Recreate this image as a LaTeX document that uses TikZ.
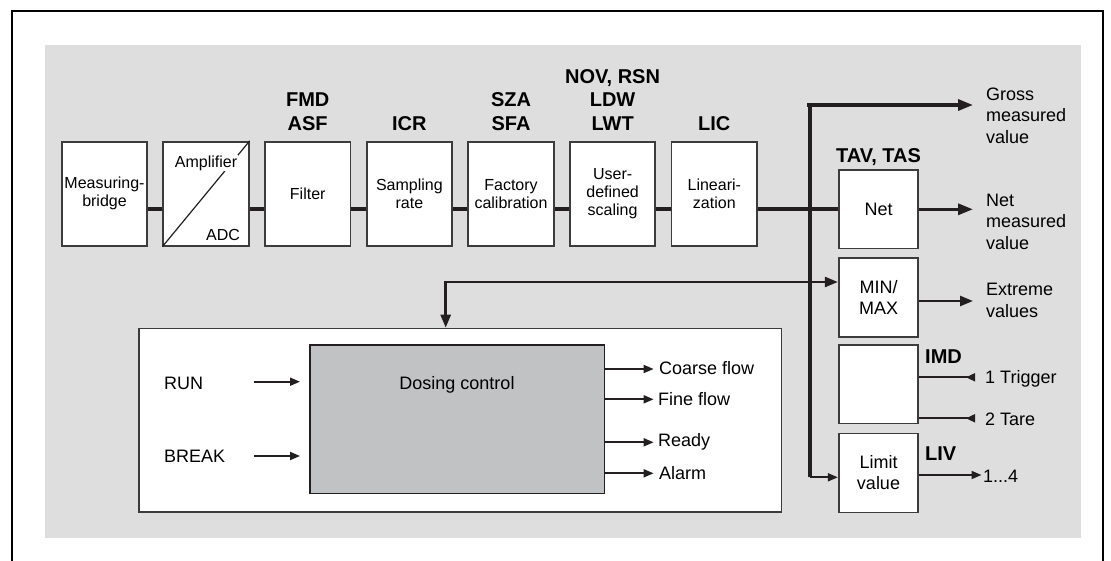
\documentclass[tikz,border=0pt]{standalone}
\usepackage{fontspec}
\setmainfont{Liberation Sans}
\usetikzlibrary{arrows.meta}
\definecolor{bgc}{HTML}{DEDEDE}
\definecolor{innerc}{HTML}{C1C2C4}
\definecolor{lnc}{HTML}{231F20}
\definecolor{bdc}{HTML}{3C3C3C}
\begin{document}
\begin{tikzpicture}[x=1pt,y=-1pt,
  box/.style={draw=bdc, line width=1.8pt, fill=white, minimum width=85.5pt, minimum height=104pt, inner sep=0pt, align=center, font=\fontsize{16}{18}\selectfont},
  sbox/.style={draw=bdc, line width=1.8pt, fill=white, minimum width=79.5pt, minimum height=78.5pt, inner sep=0pt, align=center, font=\fontsize{18}{21}\selectfont},
  lbl/.style={font=\bfseries\fontsize{20}{23.5}\selectfont, align=center, inner sep=0pt, anchor=south},
  rlbl/.style={font=\bfseries\fontsize{20}{23.5}\selectfont, inner sep=0pt, anchor=base west},
  txt/.style={font=\fontsize{18}{21.5}\selectfont, align=left, inner sep=0pt, anchor=west},
  dtxt/.style={font=\fontsize{18}{21.5}\selectfont, inner sep=0pt, anchor=west},
  conn/.style={draw=lnc, line width=3.5pt},
  bigarrow/.style={draw=lnc, line width=3.2pt, -{Triangle[length=15pt,width=11pt]}},
  medarrow/.style={draw=lnc, line width=2.4pt, -{Triangle[length=13pt,width=10pt]}},
  smallarrow/.style={draw=lnc, line width=1.8pt, -{Triangle[length=10pt,width=8pt]}},
  revarrow/.style={draw=lnc, line width=1.8pt, -{Triangle[length=9pt,width=8pt,reversed]}}
]
\useasboundingbox (0,0) rectangle (1111,561);
\fill[bgc] (45,45) rectangle (1081,538);
\draw[black, line width=2.6pt] (12,565) -- (12,11) -- (1103,11) -- (1103,565);

% top row
\node[box] (mb)  at (104.5,193.7) {Measuring-\\bridge};
\node[box] (amp) at (206.1,193.7) {};
\node[box] (fil) at (307.7,193.7) {Filter};
\node[box] (smp) at (409.4,193.7) {Sampling\\rate};
\node[box] (fac) at (511.0,193.7) {Factory\\calibration};
\node[box] (usr) at (612.6,193.7) {User-\\defined\\scaling};
\node[box] (lin) at (714.3,193.7) {Lineari-\\zation};
\draw[lnc, line width=1.2pt] (amp.south west) -- (amp.north east);
\node[fill=white, inner sep=1pt, font=\fontsize{16}{18}\selectfont] (ampt) at (206,163) {Amplifier};
\node[inner sep=0pt, font=\fontsize{16}{18}\selectfont] (adct) at (223,235) {ADC};

\node[lbl] (lfil) at (307.7,130.5) {FMD\\ASF};
\node[lbl] (lsmp) at (409.4,130.5) {ICR};
\node[lbl] (lfac) at (511.0,130.5) {SZA\\SFA};
\node[lbl] (lusr) at (612.6,130.5) {NOV, RSN\\LDW\\LWT};
\node[lbl] (llin) at (714.3,130.5) {LIC};

\coordinate (rowy) at (0,209);
\draw[conn] (mb.east |- rowy) -- (amp.west |- rowy);
\draw[conn] (amp.east |- rowy) -- (fil.west |- rowy);
\draw[conn] (fil.east |- rowy) -- (smp.west |- rowy);
\draw[conn] (smp.east |- rowy) -- (fac.west |- rowy);
\draw[conn] (fac.east |- rowy) -- (usr.west |- rowy);
\draw[conn] (usr.east |- rowy) -- (lin.west |- rowy);

% right column boxes
\node[sbox] (net) at (878.5,209.3) {Net};
\node[sbox, minimum height=79pt] (mm) at (878.5,297.5) {MIN/\\MAX};
\node[sbox] (imd) at (878.5,384.3) {};
\node[sbox, minimum height=79pt] (lim) at (878.5,473) {Limit\\value};
\node[rlbl, anchor=base] (ltav) at (878.5,162.5) {TAV, TAS};
\node[rlbl] (limd) at (925,363) {IMD};
\node[rlbl] (lliv) at (925,460.5) {LIV};

\draw[conn, line width=3.2pt] (lin.east |- rowy) -- (net.west |- rowy);

% outputs text
\node[txt] (gross) at (986,115.5) {Gross\\measured\\value};
\node[txt] (netv) at (986,221.5) {Net\\measured\\value};
\node[txt] (ext) at (986,300.5) {Extreme\\values};
\node[dtxt, anchor=base west] (trig) at (985,383.5) {1 Trigger};
\node[dtxt, anchor=base west] (tare) at (985,425.3) {2 Tare};
\node[dtxt, anchor=base west] (one4) at (983,482.5) {1...4};

% bus
\coordinate (btop) at (810,105);
\coordinate (bbot) at (810,477.3);
\coordinate (bmid) at (810,282);
\coordinate (grossend) at (973,105);
\draw[lnc, line width=3.6pt] (bbot) -- (btop);
\draw[bigarrow, line cap=rect] ([xshift=-1.8pt]btop) -- (grossend);
\draw[bigarrow] (net.east) -- (net.east -| grossend);
\draw[medarrow] (mm.east |- 0,301) -- (973,301);
\draw[smallarrow] (bbot) -- (lim.west |- bbot);
\draw[smallarrow] (lim.east |- 0,475) -- ([xshift=-1.5pt]one4.west |- 0,475);
\draw[revarrow] (imd.east |- 0,377.3) -- (975,377.3);
\draw[revarrow] (imd.east |- 0,418.3) -- (975,418.3);

% dosing block
\node[draw=bdc, line width=1.5pt, fill=white, minimum width=642.5pt, minimum height=183.5pt, inner sep=0pt] (dout) at (460,420.2) {};
\node[draw=lnc, line width=1.5pt, fill=innerc, minimum width=294.5pt, minimum height=148.8pt, inner sep=0pt] (dose) at (457,419.2) {};
\node[inner sep=0pt, font=\fontsize{18}{21.5}\selectfont] (dosetxt) at (457,385) {Dosing control};

\draw[medarrow] (bmid) -- (mm.west |- bmid);
\draw[medarrow, line width=2.6pt] (bmid) -- (445.7,282) -- (445.7,282 |- dout.north);

\node[dtxt] (run) at (164,383.3) {RUN};
\node[dtxt] (brk) at (164,456.7) {BREAK};
\coordinate (runs) at (254,381.7);
\coordinate (rune) at (300,381.7);
\coordinate (brks) at (254,456);
\coordinate (brke) at (300,456);
\draw[smallarrow] (runs) -- (rune);
\draw[smallarrow] (brks) -- (brke);

\node[dtxt] (cf) at (659,368) {Coarse flow};
\node[dtxt] (ff) at (658,399) {Fine flow};
\node[dtxt] (rd) at (658,442) {Ready};
\node[dtxt] (al) at (659,473) {Alarm};
\draw[smallarrow] (dose.east |- 0,369) -- (653.6,369);
\draw[smallarrow] (dose.east |- 0,399.3) -- (653.6,399.3);
\draw[smallarrow] (dose.east |- 0,442.3) -- (653.6,442.3);
\draw[smallarrow] (dose.east |- 0,473.3) -- (653.6,473.3);
\end{tikzpicture}
\end{document}
